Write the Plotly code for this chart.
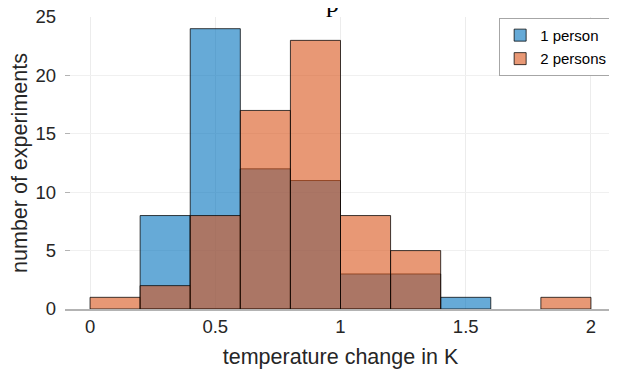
import plotly.graph_objects as go

bin_centers = [0.1, 0.3, 0.5, 0.7, 0.9, 1.1, 1.3, 1.5, 1.7, 1.9]
one_person = [0, 8, 24, 12, 11, 3, 3, 1, 0, 0]
two_persons = [1, 2, 8, 17, 23, 8, 5, 0, 0, 1]
x_ticks = [0, 0.5, 1, 1.5, 2]
x_tick_labels = ["0", "0.5", "1", "1.5", "2"]
y_ticks = [0, 5, 10, 15, 20, 25]

font_family = "Liberation Sans, Arial, sans-serif"
text_col = "#262626"

fig = go.Figure()
fig.add_trace(go.Bar(
    x=bin_centers, y=[v if v > 0 else None for v in one_person], width=0.2,
    name="1 person", legendgroup="a",
    marker=dict(color="rgba(0,114,189,0.6)", line=dict(color="rgba(0,0,0,0.75)", width=1)),
))
fig.add_trace(go.Bar(
    x=bin_centers, y=[v if v > 0 else None for v in two_persons], width=0.2,
    name="2 persons", legendgroup="b",
    marker=dict(color="rgba(217,83,25,0.6)", line=dict(color="rgba(0,0,0,0.75)", width=1)),
))

# page body has an 8px margin: the figure is sized/offset to compensate
fig.update_layout(
    width=609, height=361,
    barmode="overlay",
    plot_bgcolor="white", paper_bgcolor="white",
    margin=dict(l=57, r=1, t=9, b=60),
    font=dict(family=font_family, color=text_col, size=18.5),
    showlegend=True,
    legend=dict(
        x=0.993, y=0.997, xanchor="right", yanchor="top",
        bgcolor="white", bordercolor="#a6a6a6", borderwidth=1,
        font=dict(size=15, color="#000000"),
        itemwidth=30, tracegroupgap=1,
    ),
    xaxis=dict(
        range=[-0.1, 2.1], automargin=False,
        tickvals=x_ticks, ticktext=x_tick_labels,
        showgrid=True, gridcolor="#ececec", gridwidth=1,
        showline=True, linecolor="#b3b3b3", linewidth=1.5,
        ticks="", ticklen=0, zeroline=False,
        title=dict(text="temperature change in K", font=dict(size=21.5), standoff=14),
    ),
    yaxis=dict(
        range=[0, 25], automargin=False,
        tickvals=y_ticks, ticklabeloverflow="allow",
        showgrid=True, gridcolor="#f0f0f0", gridwidth=1,
        showline=False, zeroline=False,
        ticks="inside", ticklen=5, tickcolor="#b3b3b3", tickwidth=1,
        ticklabelstandoff=8,
        title=dict(text="number of experiments", font=dict(size=21.5), standoff=2),
    ),
    annotations=[dict(
        text="p", xref="paper", yref="paper", x=0.485, y=1.045,
        xanchor="center", yanchor="middle", showarrow=False,
        font=dict(family="Liberation Serif, Times New Roman, serif", size=26, color="#000000"),
    )],
)

fig.write_html("out.html")
